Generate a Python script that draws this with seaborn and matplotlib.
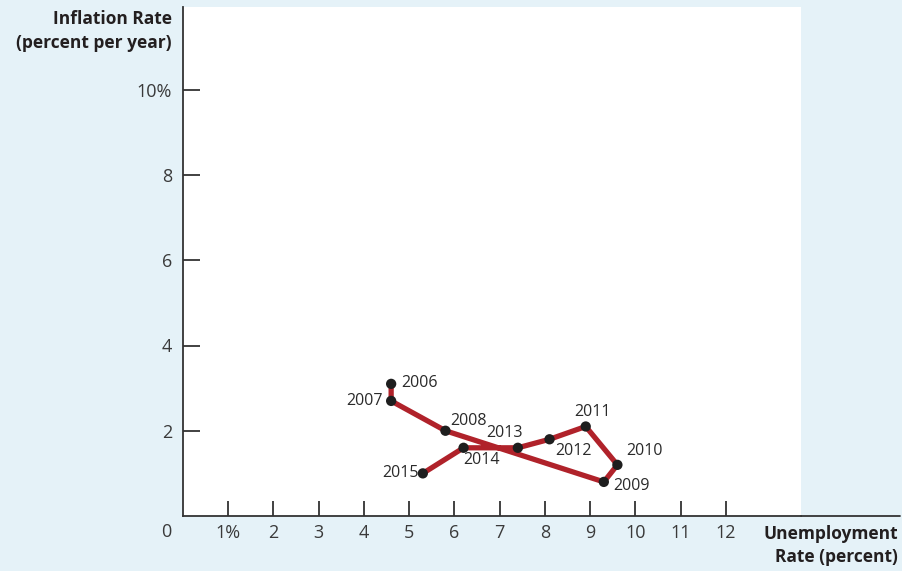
import matplotlib
matplotlib.use("Agg")
import matplotlib.pyplot as plt
import seaborn as sns
import pandas as pd
from matplotlib.lines import Line2D

years = [2006, 2007, 2008, 2009, 2010, 2011, 2012, 2013, 2014, 2015]
unemployment = [4.6, 4.6, 5.8, 9.3, 9.6, 8.9, 8.1, 7.4, 6.2, 5.3]
inflation = [3.1, 2.7, 2.0, 0.8, 1.2, 2.1, 1.8, 1.6, 1.6, 1.0]
x_ticks = [1, 2, 3, 4, 5, 6, 7, 8, 9, 10, 11, 12]
x_tick_labels = ["1%", "2", "3", "4", "5", "6", "7", "8", "9", "10", "11", "12"]
y_ticks = [2, 4, 6, 8, 10]
y_tick_labels = ["2", "4", "6", "8", "10%"]

df = pd.DataFrame({"year": years, "u": unemployment, "i": inflation})

sns.set_style("white")
plt.rcParams["font.family"] = ["Open Sans", "DejaVu Sans"]

BG = "#e5f2f8"
TXT = "#3a3a3a"
W, H = 903, 571
PX = 72 / 100  # points per pixel
fig = plt.figure(figsize=(W / 100, H / 100), dpi=100, facecolor=BG)
left, right, top, bottom = 183, 801, 7, 516
ax = fig.add_axes([left / W, (H - bottom) / H, (right - left) / W, (bottom - top) / H])
ax.set_facecolor("white")

sns.lineplot(data=df, x="u", y="i", sort=False, estimator=None, color="#b0222a",
             linewidth=3.8, ax=ax, zorder=2)
sns.scatterplot(data=df, x="u", y="i", color="#1e1e1e", s=55, edgecolor="none",
                ax=ax, zorder=3)

ax.set_xlim(0, (right - left) / 45.25)
ax.set_ylim(0, (bottom - top) / 42.625)

for s in ["top", "right"]:
    ax.spines[s].set_visible(False)
for s in ["left", "bottom"]:
    ax.spines[s].set_color("#333333")
    ax.spines[s].set_linewidth(1.3)

ax.set_xticks(x_ticks)
ax.set_xticklabels(x_tick_labels)
ax.set_yticks(y_ticks)
ax.set_yticklabels(y_tick_labels)
ax.tick_params(axis="x", bottom=True, direction="in", length=15 * PX, width=1.3,
               color="#333333", labelsize=13, labelcolor=TXT, pad=6)
ax.tick_params(axis="y", left=True, direction="in", length=17 * PX, width=1.3,
               color="#333333", labelsize=13, labelcolor=TXT, pad=8)
ax.set_xlabel("")
ax.set_ylabel("")

# extend x-axis line past plot area
fig.add_artist(Line2D([right / W, 900 / W], [(H - 515.5) / H] * 2,
                      transform=fig.transFigure, color="#333333", linewidth=1.3))

# origin label
fig.text(166 / W, 1 - 532 / H, "0", ha="center", va="center", fontsize=13, color=TXT)

# axis titles
fig.text(172 / W, 1 - 10 / H, "Inflation Rate\n(percent per year)", ha="right", va="top",
         fontsize=12.5, fontweight="bold", color="#231f20", linespacing=1.45)
fig.text(898 / W, 1 - 525 / H, "Unemployment\nRate (percent)", ha="right", va="top",
         fontsize=12.5, fontweight="bold", color="#231f20", linespacing=1.35)

# year labels: (dx, dy) in pixels, ha
offsets = {
    2006: (10, 1, "left"),
    2007: (-8, 0, "right"),
    2008: (5, 10, "left"),
    2009: (9, -4, "left"),
    2010: (9, 14, "left"),
    2011: (7, 14, "center"),
    2012: (6, -12, "left"),
    2013: (-13, 15, "center"),
    2014: (18, -12, "center"),
    2015: (-4, 0, "right"),
}
for y, u, i in zip(years, unemployment, inflation):
    dx, dy, ha = offsets[y]
    ax.annotate(str(y), (u, i), xytext=(dx, dy), textcoords="offset pixels",
                ha=ha, va="center", fontsize=11.5, color="#2a2a2a", zorder=4)

fig.savefig("out.png", dpi=100, facecolor=BG)
